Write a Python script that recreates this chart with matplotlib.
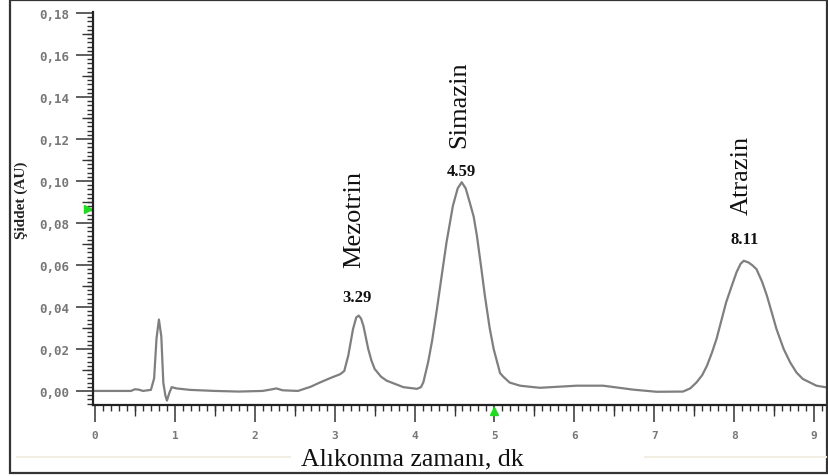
import matplotlib
matplotlib.use("Agg")
import matplotlib.pyplot as plt
from matplotlib.patches import Rectangle
from matplotlib.lines import Line2D
from matplotlib.ticker import MultipleLocator, FuncFormatter

# Chromatogram trace (retention time in min, signal in AU)
time_min = [-0.02, 0.30, 0.45, 0.50, 0.55, 0.60, 0.70, 0.74, 0.77, 0.80, 0.83, 0.855,
            0.88, 0.90, 0.93, 0.96, 1.02, 1.19, 1.50, 1.80, 2.10, 2.22, 2.27, 2.35,
            2.54, 2.70, 2.82, 2.95, 3.07, 3.12, 3.17, 3.23, 3.27, 3.30, 3.33, 3.36,
            3.42, 3.46, 3.50, 3.58, 3.65, 3.86, 4.03, 4.08, 4.11, 4.17, 4.22, 4.28,
            4.34, 4.40, 4.48, 4.54, 4.59, 4.64, 4.69, 4.74, 4.78, 4.83, 4.88, 4.94,
            4.99, 5.07, 5.11, 5.19, 5.32, 5.49, 5.57, 6.03, 6.36, 6.74, 7.03, 7.36,
            7.45, 7.53, 7.60, 7.66, 7.72, 7.78, 7.84, 7.90, 7.97, 8.03, 8.08, 8.12,
            8.18, 8.23, 8.28, 8.35, 8.41, 8.47, 8.53, 8.62, 8.70, 8.78, 8.86, 9.03,
            9.20]
signal_au = [0.0, 0.0, 0.0, 0.0008, 0.0006, 0.0, 0.0005, 0.006, 0.025, 0.034, 0.026, 0.004,
             -0.002, -0.0046, -0.001, 0.0018, 0.0012, 0.0005, 0.0, -0.0003, 0.0, 0.0008, 0.0012, 0.0003,
             0.0, 0.002, 0.0041, 0.0062, 0.008, 0.0095, 0.0168, 0.0295, 0.035, 0.0359, 0.0345, 0.031,
             0.020, 0.0145, 0.0105, 0.0068, 0.0049, 0.0018, 0.001, 0.0018, 0.0041, 0.0137, 0.024, 0.039,
             0.055, 0.0708, 0.0882, 0.0965, 0.0994, 0.0965, 0.0899, 0.083, 0.074, 0.060, 0.0454, 0.030,
             0.020, 0.0085, 0.0068, 0.004, 0.0025, 0.0018, 0.0015, 0.0025, 0.0025, 0.0006, -0.0004, -0.0003,
             0.0012, 0.0041, 0.0075, 0.012, 0.018, 0.0248, 0.0335, 0.0422, 0.050, 0.0565, 0.0605, 0.062,
             0.0612, 0.0598, 0.058, 0.052, 0.0454, 0.0375, 0.0295, 0.020, 0.0137, 0.0088, 0.0057, 0.0025,
             0.0014]

# Peak annotations
peak_names = ["Mezotrin", "Simazin", "Atrazin"]
peak_labels = ["3.29", "4.59", "8.11"]
peak_times = [3.28, 4.59, 8.13]

serif = "Liberation Serif"
mono = "DejaVu Sans Mono"

fig = plt.figure(figsize=(8.29, 4.77), dpi=100)
W, H = 829, 477
ax = fig.add_axes([93 / W, 1 - 406 / H, (826 - 93) / W, (406 - 13) / H])

ax.plot(time_min, signal_au, color="#7f7f7f", lw=1.6, solid_joinstyle="round")

ax.set_xlim(-0.025, 9.15)
ax.set_ylim(-0.0067, 0.1805)

for side in ["top", "right"]:
    ax.spines[side].set_visible(False)
for side in ["left", "bottom"]:
    ax.spines[side].set_color("#222222")
    ax.spines[side].set_linewidth(1.6)

ax.xaxis.set_major_locator(MultipleLocator(1))
ax.xaxis.set_minor_locator(MultipleLocator(0.1))
ax.yaxis.set_major_locator(MultipleLocator(0.02))
ax.yaxis.set_minor_locator(MultipleLocator(0.002))
ax.yaxis.set_major_formatter(FuncFormatter(lambda v, p: f"{v:.2f}".replace(".", ",")))
ax.xaxis.set_major_formatter(FuncFormatter(lambda v, p: f"{v:.0f}"))

ax.tick_params(axis="both", which="major", length=12, width=1.1, color="#333333",
               labelcolor="#777777")
ax.tick_params(axis="y", labelsize=9, pad=5)
ax.tick_params(axis="x", labelsize=8, pad=6)
ax.tick_params(axis="both", which="minor", length=4, width=1.0, color="#333333")
for lab in ax.get_xticklabels() + ax.get_yticklabels():
    lab.set_family(mono)
    lab.set_fontweight("bold")

# medium ticks at the half steps
secx = ax.secondary_xaxis("bottom")
secx.set_xticks([k + 0.5 for k in range(0, 9)])
secx.tick_params(length=8, width=1.0, color="#333333", labelbottom=False)
secx.spines["bottom"].set_visible(False)
secy = ax.secondary_yaxis("left")
secy.set_yticks([0.01 + 0.02 * k for k in range(9)])
secy.tick_params(length=8, width=1.0, color="#333333", labelleft=False)
secy.spines["left"].set_visible(False)

# green cursor markers
ax.plot([-0.09], [0.0867], marker=">", color="#1fdc1f", ms=6, clip_on=False)
ax.plot([5.0], [-0.0095], marker="^", color="#1fdc1f", ms=6, clip_on=False)

# compound names and retention times
name_y = [0.082, 0.1367, 0.1033]
for name, t, y in zip(peak_names, peak_times, name_y):
    ax.text(t - 0.03, y, name, rotation=90, ha="center", va="center",
            family=serif, fontsize=19, color="#111111")
label_y = [0.0448, 0.1048, 0.0724]
for lab, t, y in zip(peak_labels, peak_times, label_y):
    ax.text(t, y, lab, ha="center", va="center", family=serif,
            fontsize=12, fontweight="bold", color="#111111")

fig.text(412 / W, 1 - 459 / H, "Alıkonma zamanı, dk", ha="center", va="center",
         family=serif, fontsize=18.5, color="#111111")
fig.text(21 / W, 1 - 200 / H, "Şiddet (AU)", rotation=90, ha="center", va="center",
         family=serif, fontsize=11, fontweight="bold", color="#222222")

# faint footer lines and outer frame
fig.add_artist(Line2D([17 / W, 290 / W], [1 - 458 / H] * 2, color="#f2eee4", lw=1.5))
fig.add_artist(Line2D([645 / W, 826 / W], [1 - 458 / H] * 2, color="#f2eee4", lw=1.5))
fig.add_artist(Rectangle((10 / W, 3 / H), 817 / W, 473 / H, fill=False,
                         edgecolor="#333333", lw=1.6))

fig.savefig("out.png", dpi=100)
